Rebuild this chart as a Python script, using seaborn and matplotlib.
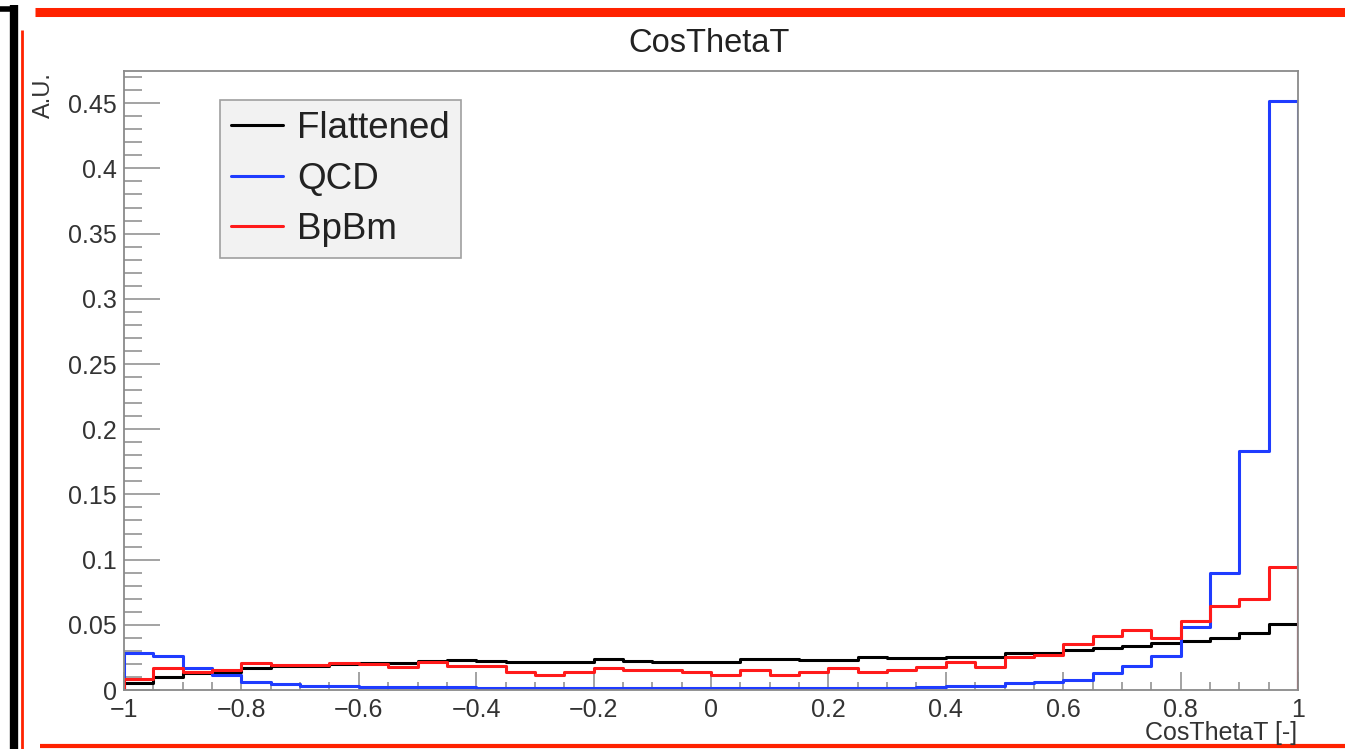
import numpy as np
import pandas as pd
import matplotlib
matplotlib.use("Agg")
import matplotlib.pyplot as plt
from matplotlib.lines import Line2D
from matplotlib.ticker import MultipleLocator, FuncFormatter
import seaborn as sns

# 40 bins over [-1, 1], normalised (A.U.)
n_bins = 40
x_range = (-1, 1)
bin_edges = np.linspace(x_range[0], x_range[1], n_bins + 1)
bin_centres = 0.5 * (bin_edges[:-1] + bin_edges[1:])

flattened = [0.0056, 0.0102, 0.0128, 0.0141, 0.0166, 0.0184, 0.0184, 0.0200, 0.0204, 0.0210,
             0.0225, 0.0230, 0.0220, 0.0217, 0.0217, 0.0217, 0.0238, 0.0225, 0.0212, 0.0212,
             0.0212, 0.0238, 0.0238, 0.0230, 0.0230, 0.0251, 0.0245, 0.0243, 0.0256, 0.0256,
             0.0281, 0.0286, 0.0307, 0.0320, 0.0337, 0.0358, 0.0378, 0.0396, 0.0435, 0.0503]
qcd = [0.0286, 0.0260, 0.0170, 0.0118, 0.0064, 0.0046, 0.0033, 0.0033, 0.0026, 0.0024,
       0.0022, 0.0020, 0.0018, 0.0016, 0.0015, 0.0015, 0.0015, 0.0015, 0.0015, 0.0015,
       0.0015, 0.0015, 0.0015, 0.0015, 0.0015, 0.0015, 0.0015, 0.0026, 0.0030, 0.0031,
       0.0051, 0.0060, 0.0077, 0.0128, 0.0187, 0.0263, 0.0486, 0.0895, 0.1834, 0.4519]
bpbm = [0.0082, 0.0170, 0.0135, 0.0153, 0.0210, 0.0192, 0.0192, 0.0210, 0.0202, 0.0179,
        0.0217, 0.0187, 0.0187, 0.0135, 0.0115, 0.0141, 0.0166, 0.0153, 0.0153, 0.0138,
        0.0112, 0.0153, 0.0117, 0.0138, 0.0171, 0.0135, 0.0155, 0.0179, 0.0217, 0.0179,
        0.0256, 0.0268, 0.0350, 0.0417, 0.0460, 0.0401, 0.0532, 0.0647, 0.0698, 0.0946]

series_names = ["Flattened", "QCD", "BpBm"]
series_values = [flattened, qcd, bpbm]
series_colors = ["#000000", "#1f3cff", "#ff1a1a"]

sns.set_style("ticks")
plt.rcParams["font.family"] = ["Liberation Sans", "DejaVu Sans"]

fig = plt.figure(figsize=(13.45, 7.49), dpi=100)
ax = fig.add_axes([124/1345, 1-690/749, 1174/1345, 619/749])

lw = 2.2
for name, vals, c in zip(series_names, series_values, series_colors):
    df = pd.DataFrame({"x": bin_centres, "w": vals})
    sns.histplot(data=df, x="x", weights="w", bins=n_bins, binrange=x_range,
                 element="step", fill=False, color=c, lw=lw, ax=ax)
    # closing edges like a ROOT histogram
    ax.vlines([bin_edges[0], bin_edges[-1]], 0, [vals[0], vals[-1]], color=c, lw=lw)

ax.set_xlim(-1, 1)
ax.set_ylim(0, 0.4747)
ax.set_xlabel("")
ax.set_ylabel("")

def fmt(v, p):
    s = "%g" % round(v, 6)
    if s == "-0":
        s = "0"
    return s.replace("-", "\u2212")

ax.xaxis.set_major_locator(MultipleLocator(0.2))
ax.xaxis.set_minor_locator(MultipleLocator(0.05))
ax.yaxis.set_major_locator(MultipleLocator(0.05))
ax.yaxis.set_minor_locator(MultipleLocator(0.01))
ax.xaxis.set_major_formatter(FuncFormatter(fmt))
ax.yaxis.set_major_formatter(FuncFormatter(fmt))

gray = "#8a8a8a"
for sp in ax.spines.values():
    sp.set_color(gray)
    sp.set_linewidth(1.3)
ax.tick_params(axis="y", which="major", direction="in", length=26, width=1.1, color=gray,
               labelsize=18, labelcolor="#333333", pad=5)
ax.tick_params(axis="y", which="minor", direction="in", length=13, width=1.1, color=gray)
ax.tick_params(axis="x", which="major", direction="in", length=13, width=1.1, color=gray,
               labelsize=18, labelcolor="#333333", pad=6)
ax.tick_params(axis="x", which="minor", direction="in", length=6, width=1.1, color=gray)

handles = [Line2D([0], [0], color=c, lw=lw) for c in series_colors]
leg = ax.legend(handles, series_names, loc="upper left",
                bbox_to_anchor=(220/1345, 1-100/749), bbox_transform=fig.transFigure,
                borderaxespad=0, fontsize=26.5, frameon=True, fancybox=False,
                framealpha=1, facecolor="#f2f2f2", edgecolor="#a0a0a0",
                handlelength=1.4, handletextpad=0.4, labelspacing=0.42,
                borderpad=0.3)
leg.get_frame().set_linewidth(1.2)
for t in leg.get_texts():
    t.set_color("#222222")

fig.text(709/1345, 1-43/749, "CosThetaT", ha="center", va="center", fontsize=23.5, color="#222222")
fig.text(44/1345, 1-72/749, "A.U.", rotation=90, ha="center", va="top", fontsize=17, color="#333333")
fig.text(1297/1345, 1-733/749, "CosThetaT [-]", ha="right", va="center", fontsize=18, color="#333333")

# hand-drawn frame around the picture
W, H = 1345, 749
def stroke(xs, ys, color, width):
    fig.add_artist(Line2D([x/W for x in xs], [1-y/H for y in ys], color=color,
                          lw=width, transform=fig.transFigure, solid_capstyle="butt"))

stroke([35, 1345], [12, 12], "#ff2200", 6.5)
stroke([14, 14], [5, 749], "#000000", 6)
stroke([0, 16], [9, 9], "#000000", 4)
stroke([22, 22], [30, 749], "#ff2200", 2)
stroke([40, 1345], [746, 746], "#ff2200", 3)

fig.savefig("out.png", dpi=100, facecolor="white")
